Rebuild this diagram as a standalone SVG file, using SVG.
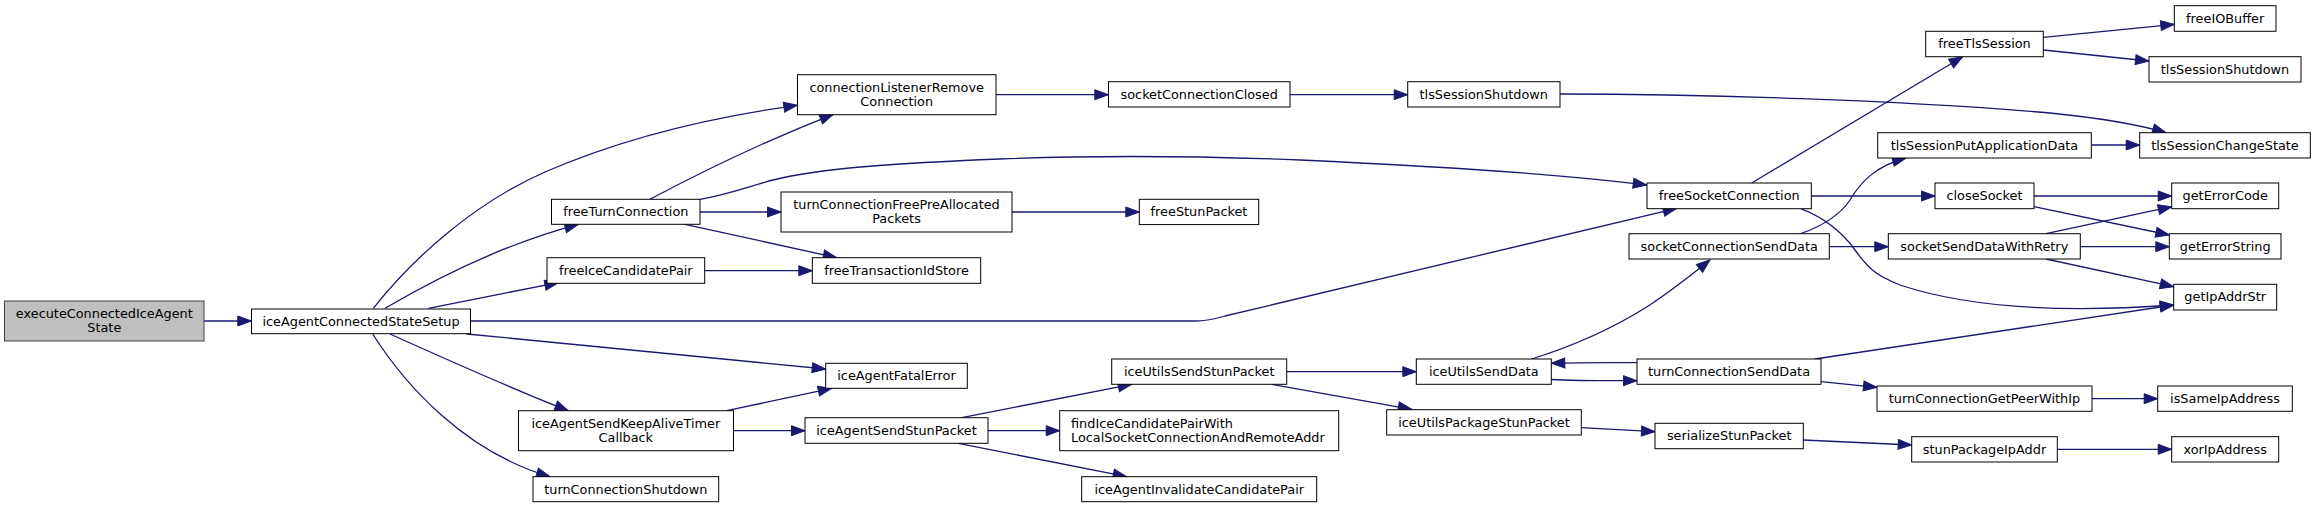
<svg xmlns="http://www.w3.org/2000/svg" width="2316" height="508" viewBox="0 0 2316 508">
<style>
.node rect{fill:#fff;stroke:#000;stroke-width:1}
.node text{font-family:"DejaVu Sans",Verdana,sans-serif;font-size:12.85px;text-anchor:middle;fill:#000}
.node text.l{text-anchor:start}
.root rect{fill:#bfbfbf;stroke:#404040}
.edges path{fill:none;stroke:#191970;stroke-width:1.3;marker-end:url(#ah)}
</style>
<defs>
<marker id="ah" viewBox="0 0 14 10" markerWidth="14" markerHeight="10" refX="13.5" refY="5" orient="auto" markerUnits="userSpaceOnUse" overflow="visible">
<path d="M0,0 L13.5,5 L0,10 z" fill="#191970" stroke="#191970" stroke-width="1"/>
</marker>
</defs>
<rect width="2316" height="508" fill="#fff"/>
<g id="edges" class="edges">
<path d="M204,321 L251.3,321"/>
<path d="M373.3,308.3 C410,262 470,205 545,172 C630,135 720,116 797.3,105.3"/>
<path d="M385,308.3 C430,282 500,245 578.3,224.3"/>
<path d="M428.3,308.3 C460,302 520,290 558.3,282.7"/>
<path d="M470.3,321 L1195,321 C1205,321 1215,319 1225,316 L1676.7,208.3"/>
<path d="M466.7,334 L825.7,369"/>
<path d="M390,334 C430,352 520,392 568.3,410.7"/>
<path d="M372.7,334 C405,385 465,452 550,476.7"/>
<path d="M650,199.3 C690,178 760,143 833.3,114.3"/>
<path d="M700,199.3 C730,194 750,186 773,180 C820,168 900,163 1000,159 C1100,155 1200,156 1300,160 C1450,167 1580,176 1646.7,185"/>
<path d="M700,212 L781,212"/>
<path d="M685,224.3 L836.7,257.7"/>
<path d="M704.7,270.7 L812.3,270.7"/>
<path d="M996,94.7 L1108.3,94.7"/>
<path d="M1290,94.7 L1407.7,94.7"/>
<path d="M1560,94 C1700,94 1900,100 2050,113 C2100,118 2140,125 2166,132.7"/>
<path d="M1012,212 L1139.3,212"/>
<path d="M726.7,410.7 L831.7,388.3"/>
<path d="M733.3,430.7 L805,430.7"/>
<path d="M961.7,417.7 L1131.7,384.3"/>
<path d="M988,430.7 L1059.7,430.7"/>
<path d="M958.3,443.3 L1126.7,476.7"/>
<path d="M1286.7,371.7 L1416.3,371.7"/>
<path d="M1271.7,384.3 L1411.7,409.3"/>
<path d="M1531.7,359 C1570,347 1610,330 1646.7,307 C1670,292 1690,276 1710,260"/>
<path d="M1551.3,379.5 C1580,381 1610,380.7 1637,380.7"/>
<path d="M1637,362.7 C1610,362.5 1580,362.5 1551.3,363.3"/>
<path d="M1815,359 L2173.7,305"/>
<path d="M1821,381.7 L1877,387.3"/>
<path d="M2092,398.7 L2157.7,398.7"/>
<path d="M1581.3,427.7 L1655,431.7"/>
<path d="M1803.3,440 L1911.7,445"/>
<path d="M2057.3,449.3 L2171.7,449.3"/>
<path d="M1751.7,183 L1962.7,56.7"/>
<path d="M1811.3,196 L1935,196"/>
<path d="M1800.7,208.7 C1825,218 1842,232 1855,250 C1868,268 1875,275 1900,285 C1960,305 2050,314 2173.7,305"/>
<path d="M2043.3,37.3 L2174.3,24.3"/>
<path d="M2043.3,50 L2149,61"/>
<path d="M2091.3,145 L2139.7,145"/>
<path d="M1800.7,233.7 C1825,225 1840,215 1850,200 C1860,183 1875,166 1906,158"/>
<path d="M1829.3,246.7 L1888.3,246.7"/>
<path d="M2034,196 L2171.7,196"/>
<path d="M2034,206.7 L2169.3,235"/>
<path d="M2046,233.7 L2171.7,206.7"/>
<path d="M2080.3,246.7 L2169.3,246.7"/>
<path d="M2046,259 L2173.7,286.7"/>
</g>
<g id="n_execute" class="node root"><rect x="4.5" y="301" width="199.5" height="40"/><text x="104.3" y="317.5">executeConnectedIceAgent</text><text x="104.3" y="332.3">State</text></g>
<g id="n_setup" class="node"><rect x="251.5" y="309" width="219" height="24.7"/><text x="361" y="326">iceAgentConnectedStateSetup</text></g>
<g id="n_clrc" class="node"><rect x="797.5" y="74.7" width="198.5" height="40"/><text x="896.7" y="91.5">connectionListenerRemove</text><text x="896.7" y="106">Connection</text></g>
<g id="n_freeTurn" class="node"><rect x="551.5" y="199.3" width="148.5" height="25"/><text x="625.8" y="216.3">freeTurnConnection</text></g>
<g id="n_freeIcePair" class="node"><rect x="547" y="257.7" width="157.7" height="25.6"/><text x="625.8" y="274.7">freeIceCandidatePair</text></g>
<g id="n_keepAlive" class="node"><rect x="518.5" y="410.7" width="215" height="40"/><text x="625.8" y="427.5">iceAgentSendKeepAliveTimer</text><text x="625.8" y="442.2">Callback</text></g>
<g id="n_turnShutdown" class="node"><rect x="533" y="476.7" width="185.7" height="25"/><text x="625.8" y="493.7">turnConnectionShutdown</text></g>
<g id="n_sockClosed" class="node"><rect x="1108.5" y="81.7" width="181.5" height="25.3"/><text x="1199.2" y="98.7">socketConnectionClosed</text></g>
<g id="n_tlsShut1" class="node"><rect x="1407.7" y="81.7" width="152.3" height="25.3"/><text x="1483.8" y="98.7">tlsSessionShutdown</text></g>
<g id="n_turnFreePre" class="node"><rect x="781" y="192" width="231" height="40"/><text x="896.5" y="208.5">turnConnectionFreePreAllocated</text><text x="896.5" y="223.3">Packets</text></g>
<g id="n_freeStun" class="node"><rect x="1139.3" y="199.3" width="119.4" height="25.3"/><text x="1199" y="216.3">freeStunPacket</text></g>
<g id="n_freeTxn" class="node"><rect x="812.3" y="257.7" width="168.4" height="25.6"/><text x="896.5" y="274.7">freeTransactionIdStore</text></g>
<g id="n_fatal" class="node"><rect x="825.7" y="363.3" width="141.6" height="25"/><text x="896.5" y="380.3">iceAgentFatalError</text></g>
<g id="n_sendStun" class="node"><rect x="805" y="417.7" width="183" height="25.6"/><text x="896.5" y="434.7">iceAgentSendStunPacket</text></g>
<g id="n_utilsSendStun" class="node"><rect x="1111.7" y="359" width="175" height="25.3"/><text x="1199.2" y="376">iceUtilsSendStunPacket</text></g>
<g id="n_findPair" class="node"><rect x="1059.7" y="410.7" width="279" height="40"/><text class="l" x="1071" y="427.5">findIceCandidatePairWith</text><text class="l" x="1071" y="442">LocalSocketConnectionAndRemoteAddr</text></g>
<g id="n_invalidate" class="node"><rect x="1081.7" y="476.7" width="235" height="25"/><text x="1199.2" y="493.7">iceAgentInvalidateCandidatePair</text></g>
<g id="n_utilsSendData" class="node"><rect x="1416.3" y="359" width="135" height="25.3"/><text x="1483.8" y="376">iceUtilsSendData</text></g>
<g id="n_utilsPackage" class="node"><rect x="1386.7" y="409.7" width="194.6" height="25.3"/><text x="1484" y="426.7">iceUtilsPackageStunPacket</text></g>
<g id="n_freeSock" class="node"><rect x="1647" y="183" width="164.3" height="25.7"/><text x="1729.2" y="200">freeSocketConnection</text></g>
<g id="n_sockSend" class="node"><rect x="1629" y="233.7" width="200.3" height="25.3"/><text x="1729.2" y="250.7">socketConnectionSendData</text></g>
<g id="n_turnSend" class="node"><rect x="1637" y="359" width="184" height="25.3"/><text x="1729" y="376">turnConnectionSendData</text></g>
<g id="n_serialize" class="node"><rect x="1655" y="423.3" width="148.3" height="25.4"/><text x="1729.2" y="440.3">serializeStunPacket</text></g>
<g id="n_freeTls" class="node"><rect x="1925.7" y="31.3" width="117.6" height="25.4"/><text x="1984.5" y="48.3">freeTlsSession</text></g>
<g id="n_tlsPut" class="node"><rect x="1877.7" y="132.7" width="213.6" height="25.3"/><text x="1984.5" y="149.7">tlsSessionPutApplicationData</text></g>
<g id="n_closeSock" class="node"><rect x="1935" y="183" width="99" height="25.7"/><text x="1984.5" y="200">closeSocket</text></g>
<g id="n_sendRetry" class="node"><rect x="1888.3" y="233.7" width="192" height="25.3"/><text x="1984.3" y="250.7">socketSendDataWithRetry</text></g>
<g id="n_getPeer" class="node"><rect x="1877" y="386" width="215" height="25.3"/><text x="1984.5" y="403">turnConnectionGetPeerWithIp</text></g>
<g id="n_stunPkgIp" class="node"><rect x="1911.7" y="436.7" width="145.6" height="25.3"/><text x="1984.5" y="453.7">stunPackageIpAddr</text></g>
<g id="n_freeIO" class="node"><rect x="2174.3" y="5.7" width="101.7" height="25.6"/><text x="2225.2" y="22.7">freeIOBuffer</text></g>
<g id="n_tlsShut2" class="node"><rect x="2149" y="56.7" width="152" height="25.3"/><text x="2225" y="73.7">tlsSessionShutdown</text></g>
<g id="n_tlsChange" class="node"><rect x="2139.7" y="132.7" width="170.6" height="25.3"/><text x="2225" y="149.7">tlsSessionChangeState</text></g>
<g id="n_getErrCode" class="node"><rect x="2171.7" y="183" width="107" height="25.7"/><text x="2225.2" y="200">getErrorCode</text></g>
<g id="n_getErrStr" class="node"><rect x="2169.3" y="233.7" width="111.7" height="25.3"/><text x="2225.2" y="250.7">getErrorString</text></g>
<g id="n_getIp" class="node"><rect x="2173.7" y="284.3" width="103" height="25.7"/><text x="2225.2" y="301.3">getIpAddrStr</text></g>
<g id="n_isSame" class="node"><rect x="2157.7" y="386" width="134.6" height="25.3"/><text x="2225" y="403">isSameIpAddress</text></g>
<g id="n_xorIp" class="node"><rect x="2171.7" y="436.7" width="107" height="25.3"/><text x="2225.2" y="453.7">xorIpAddress</text></g>
</svg>
